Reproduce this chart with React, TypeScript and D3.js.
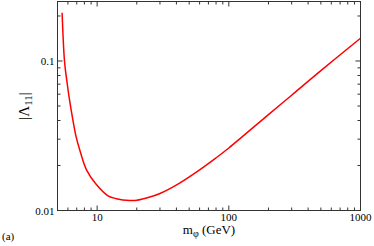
import React from "react";
import * as d3 from "d3";

const massValues = [5.42, 5.65, 5.92, 6.17, 6.54, 6.92, 7.35, 8.3, 9.9, 12.1, 14, 17.7, 20, 24.4, 30, 42, 60, 80, 100, 200, 300, 500, 1000];
const lambdaValues = [0.21, 0.1, 0.071, 0.0549, 0.0404, 0.0312, 0.0257, 0.0187, 0.01486, 0.01253, 0.012, 0.01167, 0.0117, 0.0122, 0.013, 0.0152, 0.0187, 0.0225, 0.0262, 0.0438, 0.059, 0.0862, 0.142];
const xMajorTicks = [10, 100, 1000];
const xTickLabels = ["10", "100", "1000"];
const yMajorTicks = [0.01, 0.1];
const yTickLabels = ["0.01", "0.1"];

const W = 374, H = 246;
const L = 57.5, R = 360.5, T = 1.5, B = 210.5;
const font = "'Liberation Serif', 'Times New Roman', serif";

export default function App() {
  const x = d3.scaleLog().domain([5, 1000]).range([L, R]);
  const y = d3.scaleLog().domain([0.01, 0.25]).range([B, T]);
  const pts = massValues.map((m, i) => [m, lambdaValues[i]] as [number, number]);
  const line = d3.line<[number, number]>().x(d => x(d[0])).y(d => y(d[1])).curve(d3.curveCatmullRom.alpha(0.5));

  const xMinor: number[] = [];
  for (const dec of [1, 10, 100]) for (let k = 2; k <= 9; k++) { const v = k * dec; if (v >= 5 && v <= 1000) xMinor.push(v); }
  const yMinor: number[] = [];
  for (const dec of [0.01, 0.1]) for (let k = 2; k <= 9; k++) { const v = k * dec; if (v <= 0.25) yMinor.push(v); }

  const frame = "#333";
  const maj = 5, mn = 3;
  return (
    <svg width={W} height={H} style={{ position: "absolute", left: 0, top: 0 }}>
      <rect x={0} y={0} width={W} height={H} fill="white" />
      <path d={line(pts) || ""} fill="none" stroke="#ff0000" strokeWidth={1.5} />
      <rect x={L} y={T} width={R - L} height={B - T} fill="none" stroke={frame} strokeWidth={1} />
      {xMinor.map(v => (
        <g key={"xm" + v}>
          <line x1={x(v)} x2={x(v)} y1={B} y2={B - mn} stroke={frame} />
          <line x1={x(v)} x2={x(v)} y1={T} y2={T + mn} stroke={frame} />
        </g>
      ))}
      {xMajorTicks.map((v, i) => (
        <g key={"xM" + v}>
          <line x1={x(v)} x2={x(v)} y1={B} y2={B - maj} stroke={frame} />
          <line x1={x(v)} x2={x(v)} y1={T} y2={T + maj} stroke={frame} />
          <text x={x(v)} y={B + 10.5} textAnchor="middle" fontFamily={font} fontSize={11} fill="#000">{xTickLabels[i]}</text>
        </g>
      ))}
      {yMinor.map(v => (
        <g key={"ym" + v}>
          <line x1={L} x2={L + mn} y1={y(v)} y2={y(v)} stroke={frame} />
          <line x1={R} x2={R - mn} y1={y(v)} y2={y(v)} stroke={frame} />
        </g>
      ))}
      {yMajorTicks.map((v, i) => (
        <g key={"yM" + v}>
          <line x1={L} x2={L + maj} y1={y(v)} y2={y(v)} stroke={frame} />
          <line x1={R} x2={R - maj} y1={y(v)} y2={y(v)} stroke={frame} />
          <text x={L - 3} y={y(v) + 4} textAnchor="end" fontFamily={font} fontSize={11} fill="#000">{yTickLabels[i]}</text>
        </g>
      ))}
      <text x={209} y={234} textAnchor="middle" fontFamily={font} fontSize={13} fill="#000">
        m<tspan dy={3} fontSize={10}>φ</tspan><tspan dy={-3}> (GeV)</tspan>
      </text>
      <text transform={`translate(29,106) rotate(-90)`} textAnchor="middle" fontFamily={font} fontSize={15} fill="#000">
        |Λ<tspan dy={3} fontSize={11}>11</tspan><tspan dy={-3}>|</tspan>
      </text>
      <text x={2} y={240} fontFamily={font} fontSize={11} fill="#000">(a)</text>
    </svg>
  );
}
